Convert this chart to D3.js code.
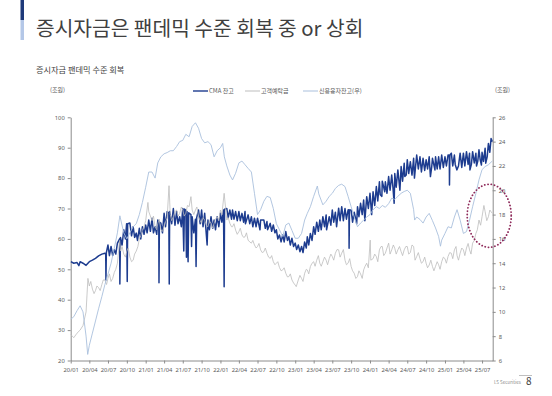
<!DOCTYPE html>
<html>
<head>
<meta charset="utf-8">
<script src="https://cdn.jsdelivr.net/npm/d3@7"></script>
<style>
  body { margin: 0; background: #fff; }
  text { font-family: "Noto Sans CJK KR", "Noto Sans", sans-serif; }
</style>
</head>
<body>
<div id="chart"></div>
<script>
// CMA 잔고 (조원, left axis) - upper edge of the band plus the big spikes
const cma = [
  ["2020-01-02",52.5],["2020-01-16",52],["2020-02-01",52.2],["2020-02-10",51.2],["2020-02-16",52.5],["2020-03-01",52],
  ["2020-03-16",51.3],["2020-04-01",52.5],["2020-04-16",53],["2020-05-01",53.6],["2020-05-16",54.4],["2020-06-01",55],
  ["2020-06-16",55.3],["2020-06-20",55],["2020-06-21",46.5],["2020-06-23",55.5],["2020-07-01",58],["2020-07-08",54.5],
  ["2020-07-16",57.5],["2020-08-01",56.4],["2020-08-16",58.6],["2020-08-27",60],["2020-08-28",45.2],["2020-08-31",60.5],
  ["2020-09-16",63],["2020-09-30",65],["2020-10-03",46],["2020-10-05",65],["2020-10-16",65.2],["2020-11-01",64],
  ["2020-11-16",61.9],["2020-11-22",59.5],["2020-12-01",63.5],["2020-12-16",64],["2021-01-01",64.6],["2021-01-16",66.2],
  ["2021-02-01",66.8],["2021-02-16",64],["2021-03-01",66.2],["2021-03-06",65.8],["2021-03-07",45.6],["2021-03-09",65.5],
  ["2021-03-16",65.2],["2021-04-01",68.4],["2021-04-16",69],["2021-04-24",68.5],["2021-04-26",45.2],["2021-04-28",69],
  ["2021-05-16",70],["2021-06-01",69],["2021-06-16",67.3],["2021-07-01",70],["2021-07-06",56],["2021-07-09",69.8],
  ["2021-07-16",69.5],["2021-07-19",54],["2021-07-22",69],["2021-07-27",52.5],["2021-07-30",68.6],["2021-08-10",68],
  ["2021-08-13",57.5],["2021-08-16",67.3],["2021-09-01",66.5],["2021-09-04",50.9],["2021-09-07",67],["2021-09-16",69.5],
  ["2021-10-01",69.5],["2021-10-16",68.4],["2021-10-28",58],["2021-11-01",66.2],["2021-11-16",67.3],["2021-12-01",66.2],
  ["2021-12-16",67.3],["2022-01-01",68.4],["2022-01-16",69.5],["2022-01-19",44.3],["2022-01-21",69.8],["2022-02-01",70],
  ["2022-02-16",69.5],["2022-03-01",69.5],["2022-03-16",69],["2022-04-01",69],["2022-04-16",68.4],["2022-05-01",69],
  ["2022-05-03",65],["2022-05-16",67.9],["2022-06-01",67.3],["2022-06-16",66.8],["2022-07-01",66.8],["2022-07-13",63],
  ["2022-07-16",66.2],["2022-08-01",66.2],["2022-08-16",65.7],["2022-08-19",63],["2022-09-01",65.1],["2022-09-16",64.6],
  ["2022-10-01",63],["2022-10-16",61.3],["2022-11-01",61.3],["2022-11-16",62.4],["2022-12-01",60.7],["2022-12-16",60.2],
  ["2023-01-01",58.6],["2023-01-16",58],["2023-02-01",57.5],["2023-02-16",59],["2023-03-01",60.7],["2023-03-16",61.8],
  ["2023-04-01",64],["2023-04-16",65.5],["2023-05-01",66.2],["2023-05-16",67.3],["2023-06-01",67.9],["2023-06-03",63],
  ["2023-06-16",67.3],["2023-07-01",69.5],["2023-07-16",68.8],["2023-07-22",64],["2023-08-01",70.1],["2023-08-16",70.6],
  ["2023-09-01",70],["2023-09-16",69.5],["2023-09-20",69.6],["2023-09-21",56.9],["2023-09-23",69.5],["2023-10-01",69.5],
  ["2023-10-16",68.8],["2023-10-28",65],["2023-11-01",70.6],["2023-11-16",71.7],["2023-12-01",72.8],["2023-12-07",66],
  ["2023-12-16",73.9],["2024-01-01",75],["2024-01-09",68],["2024-01-16",75.5],["2024-02-01",77.2],["2024-02-16",78.8],
  ["2024-02-28",74],["2024-03-01",79],["2024-03-13",75.5],["2024-03-16",78.8],["2024-04-01",80.5],["2024-04-16",81],
  ["2024-04-28",71.7],["2024-05-01",81.5],["2024-05-16",82.7],["2024-05-26",76],["2024-06-01",83.8],["2024-06-16",84.9],
  ["2024-06-19",80.5],["2024-07-01",86],["2024-07-16",85.4],["2024-08-01",86.5],["2024-08-05",80],["2024-08-16",87.6],
  ["2024-09-01",87],["2024-09-16",86.5],["2024-10-01",86],["2024-10-16",87],["2024-10-22",80.5],["2024-11-01",86.5],
  ["2024-11-13",82.7],["2024-11-16",87],["2024-12-01",87],["2024-12-16",87.6],["2025-01-01",87],["2025-01-16",87.6],
  ["2025-01-22",87.5],["2025-01-23",77.7],["2025-01-25",87.6],["2025-02-01",88.2],["2025-02-16",87.6],["2025-02-28",82.7],
  ["2025-03-16",88.2],["2025-04-01",88.2],["2025-04-16",88.7],["2025-05-01",88.2],["2025-05-03",82.7],["2025-05-16",88.7],
  ["2025-06-01",88.2],["2025-06-04",84],["2025-06-16",89.3],["2025-06-28",84.3],["2025-07-01",88.5],["2025-07-16",89.8],
  ["2025-07-19",84.9],["2025-08-01",91.4],["2025-08-14",93],["2025-08-20",92]
];

// CMA 잔고 - lower edge of the noisy band (small dips)
const cmaDips = [
  ["2020-07-24",54.5],["2020-08-08",55],["2020-09-08",58],["2020-09-24",60],["2020-10-24",61],["2020-11-08",60.5],
  ["2020-12-08",60],["2020-12-24",61.5],["2021-01-08",62],["2021-01-24",62.5],["2021-02-08",62],["2021-02-24",61.5],
  ["2021-03-24",62],["2021-04-08",64],["2021-05-08",65],["2021-05-24",64.5],["2021-06-08",65],["2021-06-24",64],
  ["2021-08-24",62],["2021-09-24",65],["2021-10-08",64],["2021-11-08",63],["2021-11-24",63.5],["2021-12-08",63],
  ["2021-12-24",64],["2022-01-08",65.5],["2022-02-08",67],["2022-02-24",66.5],["2022-03-08",66.5],["2022-03-24",66],
  ["2022-04-08",66],["2022-04-24",65.5],["2022-05-24",65],["2022-06-08",64],["2022-06-24",64],["2022-08-08",63.5],
  ["2022-09-08",62.5],["2022-09-24",62],["2022-10-08",60],["2022-10-24",59],["2022-11-08",59],["2022-11-24",59.5],
  ["2022-12-08",58],["2022-12-24",57.5],["2023-01-08",56.5],["2023-01-24",55.8],["2023-02-08",55.5],["2023-02-24",57],
  ["2023-03-08",58],["2023-03-24",59.5],["2023-04-08",61.5],["2023-04-24",62.5],["2023-05-08",63],["2023-05-24",64],
  ["2023-06-24",64.5],["2023-07-08",65.5],["2023-08-08",66],["2023-08-24",66],["2023-09-08",66.5],["2023-10-08",65.5],
  ["2023-11-08",67.3],["2023-11-24",68],["2023-12-24",70],["2024-01-24",71],["2024-02-08",72.5],["2024-02-20",74.5],
  ["2024-03-24",75],["2024-04-08",76],["2024-04-22",77],["2024-05-08",77],["2024-06-08",79],["2024-06-26",81],
  ["2024-07-08",81.5],["2024-07-24",81],["2024-08-24",83],["2024-09-08",82],["2024-09-24",82.5],["2024-10-08",83],
  ["2024-10-28",83.5],["2024-11-24",83],["2024-12-08",83],["2024-12-24",83.5],["2025-01-08",84],["2025-02-08",84],
  ["2025-02-20",84.5],["2025-03-08",84],["2025-03-24",83.5],["2025-04-08",84],["2025-04-24",84.5],["2025-05-10",84.5],
  ["2025-05-24",85],["2025-06-10",85.5],["2025-06-22",86],["2025-07-08",85.5],["2025-07-26",87],["2025-08-08",88.5]
];

// 고객예탁금 (조원, left axis)
const deposits = [
  ["2020-01-02",28.5],["2020-01-16",27.5],["2020-02-01",29],["2020-02-16",30],["2020-03-01",31.5],["2020-03-16",36],
  ["2020-03-25",47],["2020-04-01",44.5],["2020-04-16",43.5],["2020-05-01",43],["2020-05-16",44],["2020-06-01",45],
  ["2020-06-16",46.5],["2020-07-01",47],["2020-07-16",46],["2020-08-01",49],["2020-08-16",52],["2020-08-27",59.5],
  ["2020-09-01",56],["2020-09-16",55],["2020-10-01",56],["2020-10-16",54],["2020-11-01",53],["2020-11-16",56],
  ["2020-12-01",60],["2020-12-16",63],["2021-01-01",66],["2021-01-12",72],["2021-01-16",69],["2021-02-01",66],
  ["2021-02-16",64],["2021-03-01",65],["2021-03-16",63],["2021-04-01",64],["2021-04-16",67],["2021-04-25",77.5],
  ["2021-05-01",68],["2021-05-16",67.3],["2021-06-01",69.5],["2021-06-16",68.4],["2021-07-01",69.5],["2021-07-16",68.4],
  ["2021-08-01",70.6],["2021-08-10",73.9],["2021-08-16",69.5],["2021-09-01",69.5],["2021-09-16",67.3],["2021-10-01",65.1],
  ["2021-10-16",66.2],["2021-11-01",64],["2021-11-16",65.1],["2021-12-01",65.1],["2021-12-16",67.3],["2022-01-01",69.5],
  ["2022-01-19",75],["2022-02-01",66.2],["2022-02-16",65.1],["2022-03-01",64],["2022-03-16",62.9],["2022-04-01",62.4],
  ["2022-04-16",61.3],["2022-05-01",60.7],["2022-05-16",59.6],["2022-06-01",58.6],["2022-06-16",58],["2022-07-01",57.5],
  ["2022-07-16",56.4],["2022-08-01",55.8],["2022-08-16",55.3],["2022-09-01",53.6],["2022-09-16",52.5],["2022-10-01",52],
  ["2022-10-16",50.6],["2022-11-01",49.8],["2022-11-16",48.7],["2022-12-01",47.6],["2022-12-16",46.5],["2023-01-01",44.8],
  ["2023-01-06",44.3],["2023-01-16",46.5],["2023-02-01",47],["2023-02-16",48.7],["2023-03-01",49.8],["2023-03-16",50.9],
  ["2023-04-01",52.5],["2023-04-16",53],["2023-05-01",52],["2023-05-16",52.5],["2023-06-01",53],["2023-06-16",53.5],
  ["2023-07-01",54.2],["2023-07-16",55.3],["2023-08-01",56.4],["2023-08-16",55.3],["2023-09-01",53],["2023-09-16",52],
  ["2023-10-01",50.9],["2023-10-16",48.7],["2023-11-01",47.6],["2023-11-16",48.5],["2023-12-01",49.8],["2023-12-16",52],
  ["2024-01-02",59.6],["2024-01-05",53],["2024-01-16",53.5],["2024-02-01",54.2],["2024-02-16",56.4],["2024-03-01",57.5],
  ["2024-03-16",55.3],["2024-04-01",58.6],["2024-04-16",56.4],["2024-05-01",56.9],["2024-05-16",56.4],["2024-06-01",55.8],
  ["2024-06-16",56.4],["2024-07-01",57.5],["2024-07-16",55.5],["2024-08-01",57.5],["2024-08-16",54.2],["2024-09-01",53.5],
  ["2024-09-16",52.5],["2024-10-01",52],["2024-10-16",51.4],["2024-11-01",50.9],["2024-11-16",51],["2024-12-01",51.5],
  ["2024-12-16",52.5],["2025-01-01",53.5],["2025-01-16",54.2],["2025-02-01",55.3],["2025-02-16",56.4],["2025-03-01",54.5],
  ["2025-03-16",55.3],["2025-04-01",56.4],["2025-04-16",57],["2025-05-01",56.4],["2025-05-16",58.6],["2025-06-01",61.8],
  ["2025-06-16",66.2],["2025-07-01",67.3],["2025-07-10",71],["2025-07-16",69],["2025-08-01",67.3],["2025-08-20",68.4]
];

// 고객예탁금 - short swings between the readings above
const depositSwings = [
  ["2020-04-08",46],["2020-04-24",42],["2020-05-08",44.5],["2020-05-24",43],["2020-06-08",46.5],["2020-06-24",45],
  ["2020-07-08",48.5],["2020-07-24",47],["2020-08-08",50],["2020-09-08",57.5],["2020-09-24",54],["2020-10-08",57],
  ["2020-10-24",52.5],["2020-11-08",55],["2020-11-24",57.5],["2020-12-08",61],["2020-12-24",64],["2021-02-08",67.5],
  ["2021-02-24",63],["2021-03-08",66.5],["2021-03-24",62.5],["2021-04-08",65.5],["2021-05-08",66],["2021-05-24",69],
  ["2021-06-08",67.5],["2021-06-24",70.5],["2021-07-08",67.5],["2021-07-24",71],["2021-08-24",68],["2021-09-08",70.5],
  ["2021-09-24",66],["2021-10-08",67],["2021-10-24",64.5],["2021-11-08",66],["2021-11-24",63.5],["2021-12-08",66.5],
  ["2021-12-24",66],["2022-01-08",68],["2022-02-08",67],["2022-02-24",64],["2022-03-08",65],["2022-03-24",61.5],
  ["2022-04-08",63.5],["2022-04-24",60.5],["2022-05-08",62],["2022-05-24",59],["2022-06-08",59.5],["2022-06-24",57],
  ["2022-07-08",58.5],["2022-07-24",55.5],["2022-08-08",57],["2022-08-24",54],["2022-09-08",54.5],["2022-09-24",51.5],
  ["2022-10-08",52.5],["2022-10-24",49.5],["2022-11-08",50.5],["2022-11-24",47.5],["2022-12-08",48.5],["2022-12-24",45.5],
  ["2023-01-24",48],["2023-02-08",46],["2023-02-24",50],["2023-03-08",48.5],["2023-03-24",52],["2023-04-08",51],
  ["2023-04-24",54.5],["2023-05-08",51],["2023-05-24",54],["2023-06-08",51.5],["2023-06-24",55],["2023-07-08",53],
  ["2023-07-24",56.5],["2023-08-08",54],["2023-08-24",56.5],["2023-09-08",51.5],["2023-09-24",53.5],["2023-10-08",49.5],
  ["2023-10-24",47],["2023-11-08",49.5],["2023-11-24",47],["2023-12-08",51],["2023-12-24",50.5],["2024-01-24",55],
  ["2024-02-08",52.5],["2024-02-24",57.5],["2024-03-08",54.5],["2024-03-24",57],["2024-04-08",55],["2024-04-24",58],
  ["2024-05-08",55],["2024-05-24",57.5],["2024-06-08",54.5],["2024-06-24",57.5],["2024-07-08",55],["2024-07-24",58],
  ["2024-08-08",53],["2024-08-24",55.5],["2024-09-08",52],["2024-09-24",54],["2024-10-08",50.5],["2024-10-24",53],
  ["2024-11-08",49.5],["2024-11-24",52.5],["2024-12-08",50],["2024-12-24",54],["2025-01-08",52],["2025-01-24",55.5],
  ["2025-02-08",53.5],["2025-02-24",57.5],["2025-03-08",53],["2025-03-24",57],["2025-04-08",54.5],["2025-04-24",58.5],
  ["2025-05-08",55],["2025-05-24",59.5],["2025-06-08",63],["2025-06-24",64.5],["2025-07-24",66],["2025-08-08",69.5]
];

// 신용융자잔고 (조원, right axis)
const margin = [
  ["2020-01-02",9.4],["2020-01-16",9.6],["2020-02-01",10.1],["2020-02-16",10.5],["2020-03-01",10.0],["2020-03-16",8.0],
  ["2020-03-24",6.5],["2020-04-01",7.25],["2020-04-16",8.25],["2020-05-01",9.25],["2020-05-16",10.25],["2020-06-01",11.25],
  ["2020-06-16",12.25],["2020-07-01",13.1],["2020-07-16",14.0],["2020-08-01",15.25],["2020-08-16",16.5],["2020-08-28",17.9],
  ["2020-09-16",16.5],["2020-10-01",16.0],["2020-10-16",16.5],["2020-11-01",17.0],["2020-11-16",17.25],["2020-12-01",18.0],
  ["2020-12-16",19.0],["2021-01-01",20.25],["2021-01-16",21.5],["2021-02-01",21.5],["2021-02-16",21.0],["2021-03-01",22.25],
  ["2021-03-16",22.75],["2021-04-01",23.0],["2021-04-16",23.1],["2021-05-01",23.25],["2021-05-16",23.25],["2021-06-01",23.6],
  ["2021-06-16",24.0],["2021-07-01",24.1],["2021-07-16",24.6],["2021-08-01",24.4],["2021-08-16",25.25],["2021-09-01",25.55],
  ["2021-09-16",25.1],["2021-10-01",24.25],["2021-10-16",23.9],["2021-11-01",24.0],["2021-11-16",23.75],["2021-12-01",22.75],
  ["2021-12-16",23.25],["2022-01-01",23.5],["2022-01-12",23.85],["2022-01-20",22.75],["2022-02-01",22.0],["2022-02-16",21.25],
  ["2022-03-01",20.85],["2022-03-16",21.4],["2022-04-01",22.25],["2022-04-16",22.4],["2022-05-01",22.1],["2022-05-16",21.8],
  ["2022-06-01",21.5],["2022-06-16",19.75],["2022-07-01",18.0],["2022-07-16",18.4],["2022-08-01",19.1],["2022-08-16",19.5],
  ["2022-09-01",19.4],["2022-09-16",18.5],["2022-10-01",17.25],["2022-10-16",16.75],["2022-11-01",16.2],["2022-11-16",17.15],
  ["2022-12-01",17.3],["2022-12-16",16.7],["2023-01-01",16.05],["2023-01-16",16.05],["2023-02-01",16.45],["2023-02-16",17.55],
  ["2023-03-01",18.1],["2023-03-16",18.65],["2023-04-01",19.5],["2023-04-19",20.35],["2023-04-26",19.7],["2023-05-16",18.8],
  ["2023-06-01",19.1],["2023-06-16",19.5],["2023-07-01",19.75],["2023-07-16",20.15],["2023-08-01",20.4],["2023-08-16",20.5],
  ["2023-09-01",20.3],["2023-09-16",19.5],["2023-10-01",18.65],["2023-10-16",17.8],["2023-11-01",17.0],["2023-11-16",17.3],
  ["2023-12-01",17.55],["2023-12-16",17.8],["2024-01-01",18.0],["2024-01-16",18.4],["2024-02-01",18.65],["2024-02-16",18.5],
  ["2024-03-01",18.75],["2024-03-16",18.6],["2024-04-01",18.9],["2024-04-16",19.35],["2024-05-01",19.25],["2024-05-16",19.5],
  ["2024-06-01",19.75],["2024-06-16",19.9],["2024-07-01",20.0],["2024-07-16",19.75],["2024-08-01",18.4],["2024-08-06",17.55],
  ["2024-08-16",17.8],["2024-09-01",17.6],["2024-09-16",17.3],["2024-10-01",17.8],["2024-10-16",18.1],["2024-11-01",17.5],
  ["2024-11-16",16.9],["2024-12-01",16.2],["2024-12-10",15.4],["2024-12-16",15.9],["2025-01-01",16.45],["2025-01-16",17.0],
  ["2025-02-01",16.9],["2025-02-16",17.8],["2025-03-01",18.4],["2025-03-16",17.55],["2025-04-01",16.45],["2025-04-16",16.6],
  ["2025-05-01",17.55],["2025-05-16",18.65],["2025-06-01",19.75],["2025-06-16",20.85],["2025-07-01",21.7],["2025-07-16",21.95],
  ["2025-08-01",22.1],["2025-08-20",22.4]
];

const xTickLabels = ["20/01","20/04","20/07","20/10","21/01","21/04","21/07","21/10","22/01","22/04","22/07","22/10",
  "23/01","23/04","23/07","23/10","24/01","24/04","24/07","24/10","25/01","25/04","25/07"];
const leftTicks = [20, 30, 40, 50, 60, 70, 80, 90, 100];
const rightTicks = [6, 8, 10, 12, 14, 16, 18, 20, 22, 24, 26];

const seriesNames = ["CMA 잔고", "고객예탁금", "신용융자잔고(우)"];
const seriesColors = ["#1d3c8f", "#bdbdbd", "#a9bfdc"];

const W = 552, H = 396;
const parse = d3.timeParse("%Y-%m-%d");
const parseTick = d3.timeParse("%y/%m");

const svg = d3.select("#chart").append("svg")
  .attr("width", W).attr("height", H);

svg.append("rect").attr("width", W).attr("height", H).attr("fill", "#fff");

// title block
svg.append("rect").attr("x", 20.5).attr("y", 0).attr("width", 3.5).attr("height", 20).attr("fill", "#1f3a7a");
svg.append("rect").attr("x", 20.5).attr("y", 20).attr("width", 3.5).attr("height", 20).attr("fill", "#b4c7e7");
svg.append("text").attr("x", 36).attr("y", 36)
  .style("font-size", "20.3px").attr("fill", "#404040")
  .text("증시자금은 팬데믹 수준 회복 중 or 상회");
svg.append("text").attr("x", 36).attr("y", 73)
  .style("font-size", "8.2px").attr("fill", "#404040")
  .text("증시자금 팬데믹 수준 회복");

const x = d3.scaleTime()
  .domain([parse("2020-01-01"), parse("2025-08-22")])
  .range([70.7, 492.7]);
const yL = d3.scaleLinear().domain([20, 100]).range([360.5, 117.3]);
const yR = d3.scaleLinear().domain([6, 26]).range([360.5, 117.3]);

const axisColor = "#8c8c8c";
const labelColor = "#595959";

// axes
const gx = svg.append("g")
  .attr("transform", "translate(0," + yL(20) + ")")
  .call(d3.axisBottom(x).tickValues(xTickLabels.map(parseTick)).tickSize(3).tickSizeOuter(0)
    .tickFormat(d3.timeFormat("%y/%m")));
const gl = svg.append("g")
  .attr("transform", "translate(" + x.range()[0] + ",0)")
  .call(d3.axisLeft(yL).tickValues(leftTicks).tickSize(3).tickSizeOuter(0));
const gr = svg.append("g")
  .attr("transform", "translate(" + x.range()[1] + ",0)")
  .call(d3.axisRight(yR).tickValues(rightTicks).tickSize(3).tickSizeOuter(0));

[gx, gl, gr].forEach(g => {
  g.select(".domain").attr("stroke", axisColor);
  g.selectAll(".tick line").attr("stroke", axisColor);
  g.selectAll(".tick text").attr("fill", labelColor).style("font-size", "5.8px")
    .style("font-family", "'Noto Sans', sans-serif");
});
gx.selectAll(".tick text").attr("dy", "0.9em");
gl.selectAll(".tick text").attr("x", -6);
gr.selectAll(".tick text").attr("x", 6);

// unit labels
svg.append("text").attr("x", 50).attr("y", 92).style("font-size", "6px").attr("fill", labelColor).text("(조원)");
svg.append("text").attr("x", 495).attr("y", 92).style("font-size", "6px").attr("fill", labelColor).text("(조원)");

// lines
const toPts = (...arrs) => arrs.flat().map(d => ({ date: parse(d[0]), value: d[1] }))
  .sort((a, b) => a.date - b.date);

const lineL = d3.line().x(d => x(d.date)).y(d => yL(d.value));
const lineR = d3.line().x(d => x(d.date)).y(d => yR(d.value));

svg.append("path").datum(toPts(cma, cmaDips))
  .attr("fill", "none").attr("stroke", seriesColors[0]).attr("stroke-width", 1.5)
  .attr("stroke-linejoin", "round").attr("d", lineL);
svg.append("path").datum(toPts(deposits, depositSwings))
  .attr("fill", "none").attr("stroke", seriesColors[1]).attr("stroke-width", 0.8)
  .attr("stroke-linejoin", "round").attr("d", lineL);
svg.append("path").datum(toPts(margin))
  .attr("fill", "none").attr("stroke", seriesColors[2]).attr("stroke-width", 0.9)
  .attr("stroke-linejoin", "round").attr("d", lineR);

// legend
const legendX = [193, 245, 303];
seriesNames.forEach((name, i) => {
  const g = svg.append("g").attr("transform", "translate(" + legendX[i] + ",91)");
  g.append("line").attr("x1", 0).attr("x2", 15).attr("y1", 0).attr("y2", 0)
    .attr("stroke", seriesColors[i]).attr("stroke-width", i === 0 ? 1.4 : 1);
  g.append("text").attr("x", 16).attr("y", 2).style("font-size", "6px").attr("fill", labelColor).text(name);
});

// dotted annotation ellipse
svg.append("ellipse")
  .attr("cx", x(parse("2025-08-05"))).attr("cy", yR(17.9))
  .attr("rx", 22).attr("ry", 31.5)
  .attr("fill", "none").attr("stroke", "#8e2a5a").attr("stroke-width", 1.8)
  .attr("stroke-dasharray", "0.1 3.2").attr("stroke-linecap", "round");

// footer
svg.append("line").attr("x1", 519).attr("x2", 532).attr("y1", 375.5).attr("y2", 375.5)
  .attr("stroke", "#bfbfbf").attr("stroke-width", 1);
svg.append("text").attr("x", 494).attr("y", 384).style("font-size", "4.5px").attr("fill", "#8c8c8c").text("LS Securities");
svg.append("text").attr("x", 526).attr("y", 385).style("font-size", "10px").attr("fill", "#404040").text("8");
</script>
</body>
</html>
